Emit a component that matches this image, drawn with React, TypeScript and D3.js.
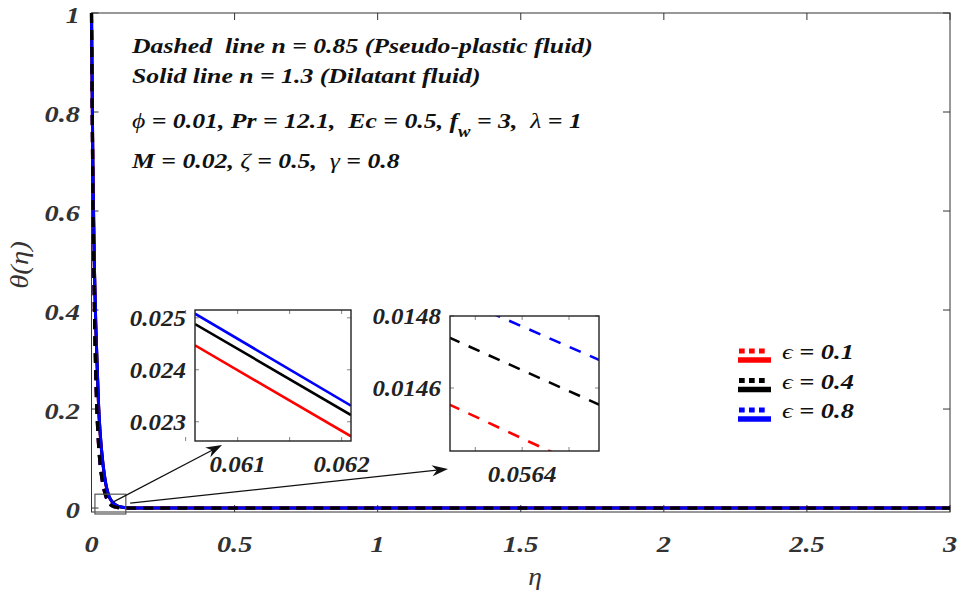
import React from 'react';
import * as d3 from 'd3';

// ---------- data ----------
const etaGrid = [0, 0.005, 0.01, 0.015, 0.02, 0.025, 0.03, 0.04, 0.05, 0.06, 0.07, 0.08, 0.09, 0.1, 0.12, 0.15, 0.2, 0.3, 0.5, 1, 1.5, 2, 2.5, 3];

// Solid lines: n = 1.3 (Dilatant fluid)
const solidEps01 = [1, 0.676, 0.486, 0.366, 0.281, 0.201, 0.151, 0.0878, 0.0478, 0.0251, 0.0141, 0.008, 0.0044, 0.0024, 0.0008, 0.0002, 0, 0, 0, 0, 0, 0, 0, 0];
const solidEps04 = [1, 0.679, 0.489, 0.369, 0.284, 0.204, 0.154, 0.0893, 0.0486, 0.0256, 0.0144, 0.0081, 0.0045, 0.0025, 0.0008, 0.0002, 0, 0, 0, 0, 0, 0, 0, 0];
const solidEps08 = [1, 0.68, 0.49, 0.37, 0.285, 0.205, 0.155, 0.09, 0.049, 0.0258, 0.0145, 0.0082, 0.0045, 0.0025, 0.0008, 0.0002, 0, 0, 0, 0, 0, 0, 0, 0];

// Dashed lines: n = 0.85 (Pseudo-plastic fluid)
const dashedEps01 = [1, 0.626, 0.406, 0.266, 0.179, 0.124, 0.0882, 0.047, 0.024, 0.0109, 0.005, 0.0023, 0.0011, 0.0005, 0.0001, 0, 0, 0, 0, 0, 0, 0, 0, 0];
const dashedEps04 = [1, 0.629, 0.409, 0.269, 0.181, 0.125, 0.0893, 0.0476, 0.0243, 0.0111, 0.0051, 0.0024, 0.0011, 0.0005, 0.0001, 0, 0, 0, 0, 0, 0, 0, 0, 0];
const dashedEps08 = [1, 0.63, 0.41, 0.27, 0.182, 0.126, 0.09, 0.048, 0.0245, 0.0112, 0.0052, 0.0024, 0.0011, 0.0005, 0.0001, 0, 0, 0, 0, 0, 0, 0, 0, 0];

const epsLabels = ['0.1', '0.4', '0.8'];
const epsColors = ['#ff0000', '#000000', '#0000ff'];

const xTicks = [0, 0.5, 1, 1.5, 2, 2.5, 3];
const xTickLabels = ['0', '0.5', '1', '1.5', '2', '2.5', '3'];
const yTicks = [0, 0.2, 0.4, 0.6, 0.8, 1];
const yTickLabels = ['0', '0.2', '0.4', '0.6', '0.8', '1'];

// Inset 1 (solid lines, zoom near eta = 0.061)
const inset1Eta = [0.06059, 0.06209];
const inset1Eps01 = [0.02447, 0.02272];
const inset1Eps04 = [0.02488, 0.02313];
const inset1Eps08 = [0.02508, 0.02331];
const inset1XTicks = [0.0605, 0.061, 0.0615, 0.062];
const inset1XLabels = ['', '0.061', '', '0.062'];
const inset1YTicks = [0.023, 0.024, 0.025];
const inset1YLabels = ['0.023', '0.024', '0.025'];

// Inset 2 (dashed lines, zoom near eta = 0.0564)
const inset2Eta = [0.0563, 0.0565];
const inset2Eps01 = [0.014581, 0.014339];
const inset2Eps04 = [0.014766, 0.014533];
const inset2Eps08 = [0.014884, 0.014658];
const inset2XTicks = [0.05635, 0.0564, 0.05645];
const inset2XLabels = ['', '0.0564', ''];
const inset2YTicks = [0.0146, 0.0148];
const inset2YLabels = ['0.0146', '0.0148'];

// zoom window marked on the main plot (data units)
const zoomEta = [0.012, 0.12];
const zoomTheta = [-0.012, 0.028];
const arrowStartEta = [0.075, 0.135];
const arrowStartTheta = [0.012, 0.01];

const FONT = '"Liberation Serif", "Times New Roman", serif';
const AXIS = '#333333';
const SX = 1.17; // horizontal stretch of the reference's text

type InsetProps = {
  id: string;
  left: number; right: number; top: number; bottom: number;
  xDomain: [number, number]; yDomain: [number, number];
  eta: number[]; series: number[][]; dashed: boolean;
  xTicks: number[]; xLabels: string[]; yTicks: number[]; yLabels: string[];
};

function Inset(p: InsetProps) {
  const sx = d3.scaleLinear().domain(p.xDomain).range([p.left, p.right]);
  const sy = d3.scaleLinear().domain(p.yDomain).range([p.bottom, p.top]);
  const line = d3.line<number>().x((_, i) => sx(p.eta[i])).y(d => sy(d));
  const tl = 4;
  return (
    <g>
      <defs>
        <clipPath id={p.id}>
          <rect x={p.left} y={p.top} width={p.right - p.left} height={p.bottom - p.top} />
        </clipPath>
      </defs>
      <rect x={p.left} y={p.top} width={p.right - p.left} height={p.bottom - p.top} fill="#fff" />
      <g clipPath={`url(#${p.id})`}>
        {p.series.map((s, i) => (
          <path key={i} d={line(s) || ''} fill="none" stroke={epsColors[i]} strokeWidth={2.6}
            strokeDasharray={p.dashed ? '12,10' : undefined} />
        ))}
      </g>
      {p.xTicks.map((t, i) => (
        <g key={'x' + i}>
          <line x1={sx(t)} x2={sx(t)} y1={p.bottom} y2={p.bottom - tl} stroke="#666" strokeWidth={0.8} />
          <line x1={sx(t)} x2={sx(t)} y1={p.top} y2={p.top + tl} stroke="#666" strokeWidth={0.8} />
          {p.xLabels[i] && (
            <text transform={`translate(${sx(t)},${p.bottom + 31}) scale(1.04,1)`} textAnchor="middle" fontFamily={FONT} fontSize={24}
              fontWeight="bold" fontStyle="italic" fill="#222">{p.xLabels[i]}</text>
          )}
        </g>
      ))}
      {p.yTicks.map((t, i) => (
        <g key={'y' + i}>
          <line x1={p.left} x2={p.left + tl} y1={sy(t)} y2={sy(t)} stroke="#666" strokeWidth={0.8} />
          <line x1={p.right} x2={p.right - tl} y1={sy(t)} y2={sy(t)} stroke="#666" strokeWidth={0.8} />
          <text transform={`translate(${p.left - 9},${sy(t) + 8}) scale(1.04,1)`} textAnchor="end" fontFamily={FONT} fontSize={24}
            fontWeight="bold" fontStyle="italic" fill="#222">{p.yLabels[i]}</text>
        </g>
      ))}
      <rect x={p.left} y={p.top} width={p.right - p.left} height={p.bottom - p.top} fill="none" stroke="#222" strokeWidth={1.4} />
    </g>
  );
}

function Arrow({ x1, y1, x2, y2 }: { x1: number; y1: number; x2: number; y2: number }) {
  const ang = Math.atan2(y2 - y1, x2 - x1);
  const L = 16, Wd = 5.5;
  const bx = x2 - L * Math.cos(ang), by = y2 - L * Math.sin(ang);
  const px = -Math.sin(ang) * Wd, py = Math.cos(ang) * Wd;
  const ix = x2 - L * 0.7 * Math.cos(ang), iy = y2 - L * 0.7 * Math.sin(ang);
  return (
    <g>
      <line x1={x1} y1={y1} x2={ix} y2={iy} stroke="#111" strokeWidth={1.2} />
      <path d={`M${x2},${y2} L${bx + px},${by + py} L${ix},${iy} L${bx - px},${by - py} Z`} fill="#111" />
    </g>
  );
}

export default function App() {
  const W = 961, H = 601;
  const L = 91.5, R = 950, T = 13, B = 512;
  const x = d3.scaleLinear().domain([0, 3]).range([L, R]);
  const y = d3.scaleLinear().domain([-0.008, 1]).range([B, T]);
  const line = d3.line<number>().x((_, i) => x(etaGrid[i])).y(d => y(d)).curve(d3.curveMonotoneX);

  const solid = [solidEps01, solidEps04, solidEps08];
  const dashedOrder = [0, 2, 1];
  const dashed = [dashedEps01, dashedEps04, dashedEps08];

  const tick = 7;
  const zx0 = x(zoomEta[0]), zx1 = x(zoomEta[1]);
  const zy0 = y(zoomTheta[1]), zy1 = y(zoomTheta[0]);

  const in1 = { left: 195, right: 351, top: 310, bottom: 441 };
  const in2 = { left: 450, right: 599, top: 316, bottom: 451 };

  const bi = { fontFamily: FONT, fontWeight: 'bold' as const, fontStyle: 'italic' as const, fill: '#111' };
  const gr = { fontWeight: 'normal' as const, fontStyle: 'italic' as const };
  const at = (px: number, py: number, s = SX) => `translate(${px},${py}) scale(${s},1)`;

  return (
    <svg width={W} height={H} style={{ position: 'absolute', left: 0, top: 0, background: '#fff' }}>
      <rect x={0} y={0} width={W} height={H} fill="#fff" />
      {/* axes box */}
      <rect x={L} y={T} width={R - L} height={B - T} fill="none" stroke={AXIS} strokeWidth={1} />
      {xTicks.map((t, i) => (
        <g key={'xt' + i}>
          <line x1={x(t)} x2={x(t)} y1={B} y2={B - tick} stroke={AXIS} />
          <line x1={x(t)} x2={x(t)} y1={T} y2={T + tick} stroke={AXIS} />
          <text transform={at(x(t), 552, 1.18)} textAnchor="middle" fontSize={24} {...bi} fill="#333">{xTickLabels[i]}</text>
        </g>
      ))}
      {yTicks.map((t, i) => (
        <g key={'yt' + i}>
          <line x1={L} x2={L + tick} y1={y(t)} y2={y(t)} stroke={AXIS} />
          <line x1={R} x2={R - tick} y1={y(t)} y2={y(t)} stroke={AXIS} />
          <text transform={at(80, y(t) + 10, 1.18)} textAnchor="end" fontSize={24} {...bi} fill="#333">{yTickLabels[i]}</text>
        </g>
      ))}
      {/* axis labels */}
      <text transform={at(535, 585, 1.1)} textAnchor="middle" fontFamily={FONT} fontSize={25} fontStyle="italic" fill="#333">η</text>
      <text transform="translate(28,265) rotate(-90) scale(1.15,1)" textAnchor="middle" fontFamily={FONT} fontSize={25} fontStyle="italic" fill="#333">θ(η)</text>

      {/* curves */}
      {solid.map((s, i) => (
        <path key={'s' + i} d={line(s) || ''} fill="none" stroke={epsColors[i]} strokeWidth={3} />
      ))}
      {dashedOrder.map(i => (
        <path key={'d' + i} d={line(dashed[i]) || ''} fill="none" stroke={epsColors[i]} strokeWidth={3.2} strokeDasharray="10,7" />
      ))}

      {/* zoom window and arrows */}
      <rect x={zx0} y={zy0} width={zx1 - zx0} height={zy1 - zy0} fill="none" stroke="#555" strokeWidth={1.2} />
      <Arrow x1={x(arrowStartEta[0])} y1={y(arrowStartTheta[0])} x2={in1.left + 27} y2={in1.bottom + 4} />
      <Arrow x1={x(arrowStartEta[1])} y1={y(arrowStartTheta[1])} x2={in2.left - 2} y2={in2.bottom + 18} />

      {/* insets */}
      <Inset id="clip1" {...in1} xDomain={[0.06059, 0.06209]} yDomain={[0.02263, 0.02515]}
        eta={inset1Eta} series={[inset1Eps01, inset1Eps04, inset1Eps08]} dashed={false}
        xTicks={inset1XTicks} xLabels={inset1XLabels} yTicks={inset1YTicks} yLabels={inset1YLabels} />
      <Inset id="clip2" {...in2} xDomain={[0.056323, 0.056482]} yDomain={[0.014425, 0.0148]}
        eta={inset2Eta} series={[inset2Eps01, inset2Eps04, inset2Eps08]} dashed={true}
        xTicks={inset2XTicks} xLabels={inset2XLabels} yTicks={inset2YTicks} yLabels={inset2YLabels} />

      {/* annotation */}
      <text transform={at(132, 53)} fontSize={22} {...bi} xmlSpace="preserve">Dashed  line n = 0.85 (Pseudo-plastic fluid)</text>
      <text transform={at(132, 83)} fontSize={22} {...bi}>Solid line n = 1.3 (Dilatant fluid)</text>
      <text transform={at(132, 128)} fontSize={22} {...bi} xmlSpace="preserve">
        <tspan {...gr}>ϕ</tspan> = 0.01, Pr = 12.1,  Ec = 0.5, f
        <tspan fontSize={16} dy={9}>w</tspan>
        <tspan dy={-9}> = 3,  </tspan>
        <tspan {...gr}>λ</tspan> = 1
      </text>
      <text transform={at(132, 168)} fontSize={22} {...bi} xmlSpace="preserve">
        M = 0.02, <tspan {...gr}>ζ</tspan> = 0.5,  <tspan {...gr}>γ</tspan> = 0.8
      </text>

      {/* legend */}
      {epsLabels.map((lab, i) => {
        const base = 359 + i * 29.5;
        return (
          <g key={'lg' + i}>
            <line x1={739} x2={767} y1={base - 8} y2={base - 8} stroke={epsColors[i]} strokeWidth={5} strokeDasharray="5.7,4.3" />
            <line x1={738} x2={771} y1={base + 1} y2={base + 1} stroke={epsColors[i]} strokeWidth={5.5} />
            <text transform={at(782, base, 1.2)} fontSize={22} {...bi} xmlSpace="preserve">
              <tspan {...gr}>ϵ</tspan> = {lab}
            </text>
          </g>
        );
      })}
    </svg>
  );
}
